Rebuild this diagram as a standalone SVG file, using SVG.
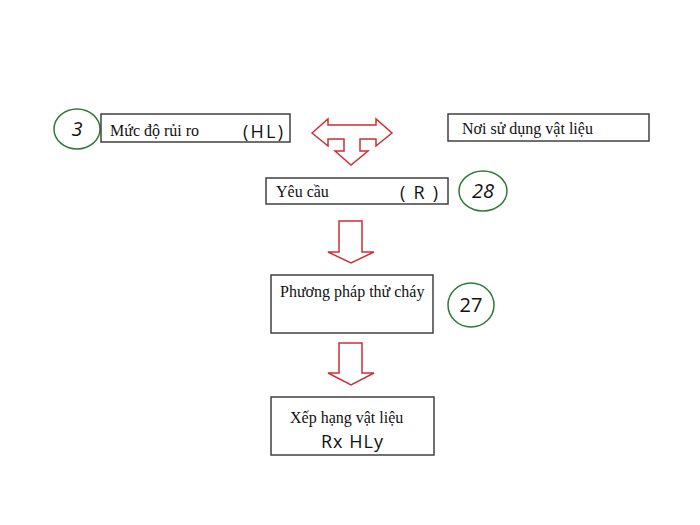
<svg xmlns="http://www.w3.org/2000/svg" width="700" height="525" viewBox="0 0 700 525">
<style>
.box{fill:#fff;stroke:#404040;stroke-width:1.5}
.circ{fill:none;stroke:#2f7a35;stroke-width:1.5}
.arr{fill:#fff;stroke:#cc3036;stroke-width:1.5;stroke-linejoin:miter}
.vt{font-family:"Liberation Serif","Times New Roman",serif;font-size:16px;fill:#111}
.sn{font-family:"Open Sans","Liberation Sans",Arial,sans-serif;font-size:18px;fill:#111}
.num{font-family:"Open Sans","Liberation Sans",Arial,sans-serif;font-size:20px;fill:#111}
</style>
<rect width="700" height="525" fill="#fff"/>
<g id="connectors">
<path class="arr" d="M312,133 L328,119 L328,125 L376,125 L376,119 L392,133 L376,146 L376,139 L360,139 L360,151 L368,151 L351,165 L335,151 L344,151 L344,139 L328,139 L328,146 Z"/>
<path class="arr" d="M339,221 L362,221 L362,252 L374,252 L351,263 L328,252 L339,252 Z"/>
<path class="arr" d="M339,343 L362,343 L362,373 L374,373 L351,385 L328,373 L339,373 Z"/>
</g>
<g id="n3">
<ellipse class="circ" cx="77" cy="129" rx="23" ry="20"/>
<text class="num" x="77" y="136" text-anchor="middle" font-style="italic">3</text>
</g>
<g id="risk">
<rect class="box" x="101" y="114" width="189" height="28"/>
<text class="vt" x="110" y="136">Mức độ rủi ro</text>
<text class="sn" x="243" y="138" textLength="40">(HL)</text>
</g>
<g id="use">
<rect class="box" x="448" y="114" width="201" height="27"/>
<text class="vt" x="462" y="134">Nơi sử dụng vật liệu</text>
</g>
<g id="req">
<rect class="box" x="266" y="178" width="182" height="26"/>
<text class="vt" x="276" y="197">Yêu cầu</text>
<text class="sn" x="400" y="199" textLength="38" xml:space="preserve">( R )</text>
</g>
<g id="n28">
<ellipse class="circ" cx="483" cy="191" rx="24" ry="20"/>
<text class="num" x="483" y="198" text-anchor="middle" font-style="italic">28</text>
</g>
<g id="method">
<rect class="box" x="271" y="275" width="162" height="58"/>
<text class="vt" x="280" y="297">Phương pháp thử cháy</text>
</g>
<g id="n27">
<ellipse class="circ" cx="471" cy="305" rx="23" ry="22"/>
<text class="num" x="471" y="312" text-anchor="middle">27</text>
</g>
<g id="rank">
<rect class="box" x="271" y="397" width="163" height="58"/>
<text class="vt" x="290" y="423">Xếp hạng vật liệu</text>
<text class="sn" x="321" y="448" textLength="62">Rx HLy</text>
</g>
</svg>
